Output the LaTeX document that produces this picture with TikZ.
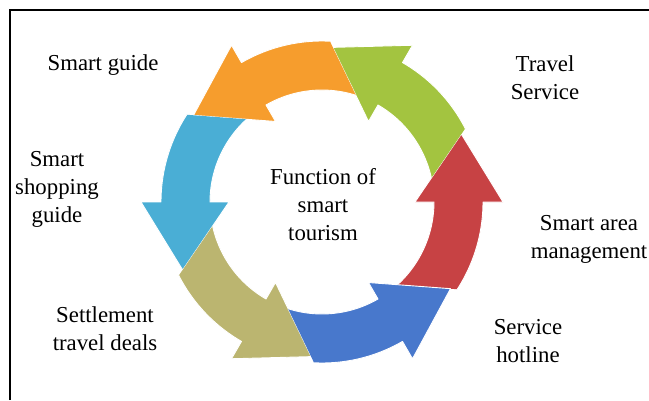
\documentclass[tikz,border=0pt]{standalone}
\usepackage{fontspec}
\setmainfont{Liberation Serif}
\definecolor{arrRed}{RGB}{199,66,68}
\definecolor{arrGreen}{RGB}{163,196,64}
\definecolor{arrOrange}{RGB}{246,157,45}
\definecolor{arrCyan}{RGB}{74,174,213}
\definecolor{arrOlive}{RGB}{187,181,112}
\definecolor{arrBlue}{RGB}{72,120,204}
\begin{document}
\begin{tikzpicture}[x=1pt,y=1pt,
  lbl/.style={font=\fontsize{22.8}{28}\selectfont, align=center, anchor=base, inner sep=0pt},
  arrowshape/.style={fill=#1, draw=white, line width=0.9pt, line join=round}]
\useasboundingbox (0,0) rectangle (649,400);
\fill[white] (0,0) rectangle (649,400);
% frame lines (top and left)
\draw[line width=2.2pt] (10,0) -- (10,390) -- (649,390);

% ring of six curved arrows, each a rotated copy
\coordinate (C) at (322,198);
\foreach \k/\col in {0/arrRed,1/arrGreen,2/arrOrange,3/arrCyan,4/arrOlive,5/arrBlue}{
  \begin{scope}[shift={(C)}, rotate=60*\k]
    % tail starts at the inner side of the preceding arrow head
    \clip (-300,-54.3) -- (300,-99.7) -- (300,300) -- (-300,300) -- cycle;
    \path[arrowshape=\col] (-57:161) arc[start angle=-57,end angle=0,radius=161]
      -- (0:181) -- (26:155) -- (0:93) -- (0:112)
      arc[start angle=0,end angle=-57,radius=112] -- cycle;
  \end{scope}
}

% labels (anchored at the baseline of their last line)
\node[lbl] (center) at (323,160) {Function of\\smart\\tourism};
\node[lbl] (guide) at (103,329) {Smart guide};
\node[lbl] (travel) at (545,300) {Travel\\Service};
\node[lbl] (shopping) at (57,178) {Smart\\shopping\\guide};
\node[lbl] (area) at (589,142) {Smart area\\management};
\node[lbl] (deals) at (105,50) {Settlement\\travel deals};
\node[lbl] (hotline) at (528,38) {Service\\hotline};
\end{tikzpicture}
\end{document}
